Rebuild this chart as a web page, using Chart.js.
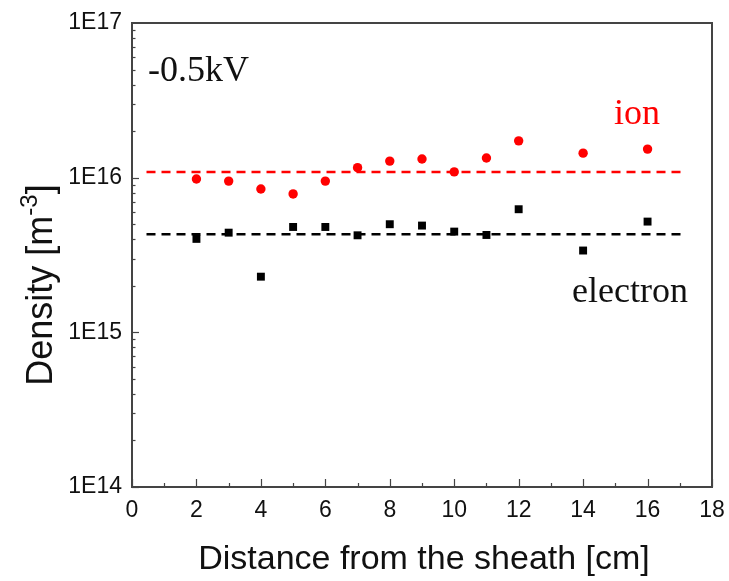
<!DOCTYPE html>
<html>
<head>
<meta charset="utf-8">
<script src="https://cdn.jsdelivr.net/npm/chart.js@4/dist/chart.umd.min.js"></script>
<style>
html,body{margin:0;padding:0;background:#fff;}
canvas{display:block;}
</style>
</head>
<body>
<canvas id="c" width="729" height="581"></canvas>
<script>
// ---- data ----
const distances = [2, 3, 4, 5, 6, 7, 8, 9, 10, 11, 12, 14, 16];
const ionDensity = [0.98e16, 0.95e16, 0.845e16, 0.785e16, 0.95e16, 1.16e16, 1.28e16, 1.32e16, 1.09e16, 1.34e16, 1.73e16, 1.44e16, 1.53e16];
const electronDensity = [4.02e15, 4.41e15, 2.29e15, 4.8e15, 4.8e15, 4.24e15, 5.0e15, 4.9e15, 4.48e15, 4.26e15, 6.25e15, 3.38e15, 5.2e15];
const ionMean = 1.09e16;
const electronMean = 4.3e15;
const meanLineX = [0.45, 17.1];
const xTickValues = [0, 2, 4, 6, 8, 10, 12, 14, 16, 18];
const yDecades = [1e14, 1e15, 1e16, 1e17];
const yDecadeLabels = ['1E14', '1E15', '1E16', '1E17'];

const RED = '#ff0000';
const BLACK = '#000000';
const AXIS = '#444444';

const overlay = {
  id: 'overlay',
  afterDraw(chart) {
    const ctx = chart.ctx;
    const a = chart.chartArea;
    const xs = chart.scales.x, ys = chart.scales.y;
    ctx.save();
    // frame
    ctx.strokeStyle = AXIS;
    ctx.lineWidth = 2;
    ctx.strokeRect(a.left, a.top, a.right - a.left, a.bottom - a.top);
    // x ticks (inside, bottom)
    ctx.lineWidth = 1.2;
    for (let v = 0; v <= 18; v++) {
      const px = Math.round(xs.getPixelForValue(v)) + 0.5;
      const len = v % 2 === 0 ? 8 : 4;
      ctx.beginPath();
      ctx.moveTo(px, a.bottom);
      ctx.lineTo(px, a.bottom - len);
      ctx.stroke();
    }
    // y ticks (inside, left)
    for (let e = 14; e <= 16; e++) {
      for (let m = 1; m <= 9; m++) {
        const v = m * Math.pow(10, e);
        const py = Math.round(ys.getPixelForValue(v)) + 0.5;
        const len = m === 1 ? 7 : 3.5;
        ctx.beginPath();
        ctx.moveTo(a.left, py);
        ctx.lineTo(a.left + len, py);
        ctx.stroke();
      }
    }
    // annotations
    ctx.textBaseline = 'alphabetic';
    ctx.textAlign = 'left';
    ctx.font = '36px "Liberation Serif", "Times New Roman", serif';
    ctx.fillStyle = '#111';
    ctx.fillText('-0.5kV', 148, 81);
    ctx.fillStyle = RED;
    ctx.fillText('ion', 614, 124);
    ctx.fillStyle = '#111';
    ctx.fillText('electron', 572, 302);

    // x title
    ctx.font = '34px "Liberation Sans", Arial, sans-serif';
    ctx.fillStyle = '#111';
    ctx.textAlign = 'center';
    ctx.fillText('Distance from the sheath [cm]', 424, 569);

    // y title with superscript
    ctx.save();
    ctx.translate(52, 285);
    ctx.rotate(-Math.PI / 2);
    const main = 'Density [m';
    const sup = '-3';
    const close = ']';
    ctx.font = '36px "Liberation Sans", Arial, sans-serif';
    const w1 = ctx.measureText(main).width;
    const w3 = ctx.measureText(close).width;
    ctx.font = '24px "Liberation Sans", Arial, sans-serif';
    const w2 = ctx.measureText(sup).width;
    const total = w1 + w2 + w3;
    let x0 = -total / 2;
    ctx.textAlign = 'left';
    ctx.font = '36px "Liberation Sans", Arial, sans-serif';
    ctx.fillText(main, x0, 0);
    ctx.font = '24px "Liberation Sans", Arial, sans-serif';
    ctx.fillText(sup, x0 + w1, -15);
    ctx.font = '36px "Liberation Sans", Arial, sans-serif';
    ctx.fillText(close, x0 + w1 + w2, 0);
    ctx.restore();

    ctx.restore();
  }
};

new Chart(document.getElementById('c'), {
  type: 'scatter',
  data: {
    datasets: [
      {
        label: 'ion mean',
        type: 'line',
        data: meanLineX.map(x => ({x, y: ionMean})),
        borderColor: RED,
        borderWidth: 2.5,
        borderDash: [9, 6],
        pointRadius: 0,
        fill: false
      },
      {
        label: 'electron mean',
        type: 'line',
        data: meanLineX.map(x => ({x, y: electronMean})),
        borderColor: BLACK,
        borderWidth: 2.5,
        borderDash: [9, 6],
        pointRadius: 0,
        fill: false
      },
      {
        label: 'ion',
        data: distances.map((x, i) => ({x, y: ionDensity[i]})),
        backgroundColor: RED,
        borderColor: RED,
        pointStyle: 'circle',
        pointRadius: 4.7,
        borderWidth: 0
      },
      {
        label: 'electron',
        data: distances.map((x, i) => ({x, y: electronDensity[i]})),
        backgroundColor: BLACK,
        borderColor: BLACK,
        pointStyle: 'rect',
        pointRadius: 5.6,
        borderWidth: 0
      }
    ]
  },
  options: {
    responsive: false,
    animation: false,
    devicePixelRatio: 1,
    layout: { padding: { left: 0, top: 23, right: 17, bottom: 0 } },
    plugins: { legend: { display: false }, tooltip: { enabled: false } },
    scales: {
      x: {
        type: 'linear',
        min: 0, max: 18,
        afterBuildTicks(scale) { scale.ticks = xTickValues.map(v => ({value: v})); },
        afterFit(scale) { scale.height = 94; scale.paddingLeft = 0; scale.paddingRight = 0; },
        grid: { display: false, drawTicks: false },
        border: { display: false },
        ticks: {
          font: { family: '"Liberation Sans", Arial, sans-serif', size: 23 },
          color: '#111',
          padding: 10,
          maxRotation: 0,
          autoSkip: false
        }
      },
      y: {
        type: 'logarithmic',
        min: 1e14, max: 1e17,
        afterBuildTicks(scale) { scale.ticks = yDecades.map(v => ({value: v})); },
        afterFit(scale) { scale.width = 132; scale.paddingTop = 0; scale.paddingBottom = 0; },
        grid: { display: false, drawTicks: false },
        border: { display: false },
        ticks: {
          font: { family: '"Liberation Sans", Arial, sans-serif', size: 23 },
          color: '#111',
          padding: 10,
          autoSkip: false,
          callback(value) {
            const i = yDecades.indexOf(value);
            return i >= 0 ? yDecadeLabels[i] : '';
          }
        }
      }
    }
  },
  plugins: [overlay]
});
</script>
</body>
</html>
